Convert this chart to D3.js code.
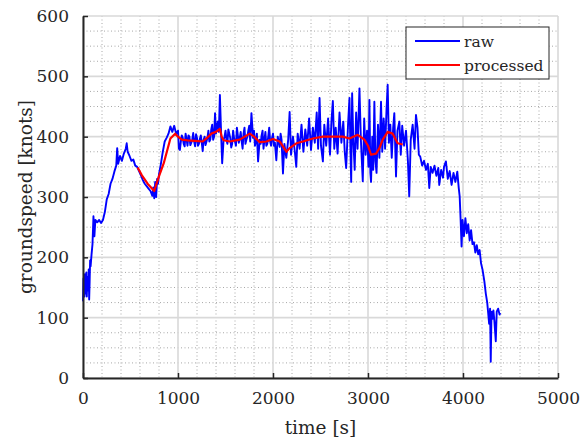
<!DOCTYPE html>
<html>
<head>
<meta charset="utf-8">
<script src="https://cdn.jsdelivr.net/npm/d3@7"></script>
<style>
body { margin: 0; background: #fff; }
text { font-family: "DejaVu Serif", serif; fill: #262626; }
</style>
</head>
<body>
<svg id="chart" width="582" height="441"></svg>
<script>
// raw groundspeed samples (one line of times = one line of speeds)
var rawTime = [
  0,5,10,15,20,25,30,35,40,45,50,55,60,65,70,75,80,90,
  100,110,120,130,150,170,190,210,230,250,270,290,310,330,350,360,370,390,410,430,450,460,470,490,
  510,530,550,570,590,610,630,650,670,690,710,730,740,750,760,770,780,790,800,820,840,860,880,900,
  920,940,960,980,1000,1010,1020,1030,1040,1050,1060,1070,1080,1090,1100,1110,1120,1130,1140,1150,
  1160,1170,1180,1190,1200,1210,1220,1230,1240,1250,1260,1270,1280,1290,1300,1310,1320,1330,1340,
  1350,1360,1370,1380,1390,1400,1410,1420,1430,1441,1455,1465,1480,1490,1500,1510,1520,1530,1540,
  1550,1560,1570,1580,1590,1600,1610,1620,1630,1640,1650,1660,1670,1680,1690,1700,1710,1720,1730,
  1740,1750,1760,1773,1790,1800,1810,1820,1830,1843,1860,1870,1880,1890,1900,1910,1920,1930,1940,
  1950,1960,1970,1980,1990,2000,2010,2020,2035,2050,2060,2070,2080,
  2090,2105,2120,2140,2160,2175,2190,2210,2230,2245,2260,2280,2300,
  2320,2340,2360,2380,2400,2420,2440,2460,2475,2490,2505,2525,2540,2560,2580,2600,2615,2630,2645,
  2660,2680,2700,2720,2740,2755,2770,2790,2805,2815,2823,2833,2845,2860,2875,2890,2910,2925,2945,
  2960,2975,2990,3005,3015,3025,3032,3045,3055,3067,3078,3090,3105,3120,3137,3150,3165,3180,3195,
  3207,3220,3235,3250,3265,3277,3295,3310,3330,3345,3360,3380,3400,3420,3434,3450,3470,3490,3505,
  3521,3535,3550,3570,3590,3610,3630,3645,3660,3680,3700,3720,3740,3750,3770,3790,3800,3820,3840,
  3860,3880,3900,3920,3940,3955,3965,3975,3985,3995,4010,4025,4040,4055,4070,4085,4100,4115,4130,
  4145,4160,4175,4190,4205,4215,4225,4240,4255,4265,4275,4285,4292,4300,4310,4320,4330,4345,4355,
  4370,4385,4390];
var rawSpeed = [
  127,165,150,135,172,160,140,175,135,168,150,145,180,130,160,195,185,205,
  222,268,235,262,258,262,257,262,275,296,305,322,330,342,352,381,355,368,360,372,380,389,375,368,
  360,362,352,350,343,336,328,322,318,314,310,302,316,298,325,300,330,322,338,355,375,392,398,405,
  417,408,418,405,410,380,378,392,402,398,388,384,405,396,385,402,400,386,390,395,
  406,392,384,404,398,385,388,396,402,390,376,395,400,386,392,398,410,392,395,
  412,420,395,400,439,405,418,425,408,469,400,356,395,400,410,395,388,412,405,
  398,382,388,410,398,392,385,415,402,390,398,408,392,380,405,415,388,395,400,
  410,418,392,439,398,410,385,392,405,359,395,388,402,410,380,395,408,385,388,
  400,415,392,385,398,405,385,390,361,400,392,383,405,
  395,339,388,365,395,441,370,400,375,350,405,380,420,
  375,412,385,430,378,415,390,440,380,464,385,359,420,385,430,370,425,459,380,
  415,372,440,390,425,375,348,420,464,380,325,472,395,345,440,380,480,395,326,
  430,370,410,350,461,340,325,400,345,458,360,340,420,365,458,375,430,380,445,
  486,390,420,365,415,439,334,410,425,370,418,385,410,360,301,395,420,380,436,
  415,370,367,352,360,345,355,315,350,340,352,335,348,320,345,332,350,359,330,
  343,320,340,325,342,315,301,262,218,262,235,265,240,255,228,245,222,225,208,
  220,205,212,190,180,170,160,140,125,108,90,115,27,110,98,112,95,61,110,
  115,105,108];

// processed (smoothed) groundspeed
var procTime = [575,620,680,750,790,850,920,970,1000,1040,1100,1180,1260,1300,1350,1400,1441,1460,
  1480,1545,1650,1755,1800,1860,1930,2000,2070,2105,2141,2175,2246,2315,2420,2525,2630,2735,2805,
  2892,2962,3000,3032,3085,3120,3155,3207,3260,3312,3365];
var procSpeed = [349,336,322,310,330,356,397,405,400,395,394,393,392,397,405,408,413,400,
  394,392,395,405,400,391,392,396,392,384,375,381,389,392,397,400,400,400,397,
  403,395,385,370,372,381,395,408,405,389,387];

var xTicks = [0, 1000, 2000, 3000, 4000, 5000];
var yTicks = [0, 100, 200, 300, 400, 500, 600];
var seriesNames = ["raw", "processed"];
var seriesColors = ["#0000ff", "#ff0000"];

var svg = d3.select("#chart"),
    margin = {top: 16, left: 83, right: 24, bottom: 63},
    width = 582 - margin.left - margin.right,
    height = 441 - margin.top - margin.bottom,
    g = svg.append("g").attr("transform", "translate(" + margin.left + "," + margin.top + ")");

var x = d3.scaleLinear().domain([0, 5000]).range([0, width]);
var y = d3.scaleLinear().domain([0, 600]).range([height, 0]);

// minor grid (dotted)
var minorX = d3.range(200, 5000, 200).filter(function(d) { return d % 1000 !== 0; });
var minorY = d3.range(25, 600, 25).filter(function(d) { return d % 100 !== 0; });

g.append("g").selectAll("line")
    .data(minorX).enter().append("line")
    .attr("x1", function(d) { return x(d); }).attr("x2", function(d) { return x(d); })
    .attr("y1", 0).attr("y2", height)
    .attr("stroke", "#a8a8a8").attr("stroke-width", 1).attr("stroke-dasharray", "1,2.5");

g.append("g").selectAll("line")
    .data(minorY).enter().append("line")
    .attr("x1", 0).attr("x2", width)
    .attr("y1", function(d) { return y(d); }).attr("y2", function(d) { return y(d); })
    .attr("stroke", "#a8a8a8").attr("stroke-width", 1).attr("stroke-dasharray", "1,2.5");

// major grid
g.append("g").selectAll("line")
    .data(xTicks).enter().append("line")
    .attr("x1", function(d) { return x(d); }).attr("x2", function(d) { return x(d); })
    .attr("y1", 0).attr("y2", height)
    .attr("stroke", "#d9d9d9").attr("stroke-width", 1.6);

g.append("g").selectAll("line")
    .data(yTicks).enter().append("line")
    .attr("x1", 0).attr("x2", width)
    .attr("y1", function(d) { return y(d); }).attr("y2", function(d) { return y(d); })
    .attr("stroke", "#d9d9d9").attr("stroke-width", 1.6);

// data lines
var rawData = rawTime.map(function(t, i) { return [t, rawSpeed[i]]; });
var procData = procTime.map(function(t, i) { return [t, procSpeed[i]]; });

var line = d3.line()
    .x(function(d) { return x(d[0]); })
    .y(function(d) { return y(d[1]); });

g.append("path").datum(rawData)
    .attr("d", line).attr("fill", "none")
    .attr("stroke", seriesColors[0]).attr("stroke-width", 1.9).attr("stroke-linejoin", "round");

g.append("path").datum(procData)
    .attr("d", line).attr("fill", "none")
    .attr("stroke", seriesColors[1]).attr("stroke-width", 2.2).attr("stroke-linejoin", "round");

// axes
var fmt = d3.format("d");
var xAxis = g.append("g")
    .attr("transform", "translate(0," + height + ")")
    .call(d3.axisBottom(x).tickValues(xTicks).tickFormat(fmt).tickSizeInner(-5).tickSizeOuter(0).tickPadding(14));
var yAxis = g.append("g")
    .call(d3.axisLeft(y).tickValues(yTicks).tickFormat(fmt).tickSizeInner(-5).tickSizeOuter(0).tickPadding(14));

[xAxis, yAxis].forEach(function(a) {
    a.select(".domain").attr("stroke", "#262626").attr("stroke-width", 2);
    a.selectAll(".tick line").attr("stroke", "#262626").attr("stroke-width", 1.5);
    a.selectAll(".tick text").attr("font-family", "DejaVu Serif").attr("font-size", 17).attr("fill", "#262626");
});

// axis titles
svg.append("text")
    .attr("x", margin.left + width / 2).attr("y", 434)
    .attr("text-anchor", "middle").attr("font-size", 18.5)
    .text("time [s]");

svg.append("text")
    .attr("transform", "translate(32," + (margin.top + height / 2) + ") rotate(-90)")
    .attr("text-anchor", "middle").attr("font-size", 18.5)
    .text("groundspeed [knots]");

// legend
var legend = svg.append("g").attr("transform", "translate(406,27)");
legend.append("rect")
    .attr("width", 143).attr("height", 52)
    .attr("fill", "#fff").attr("stroke", "#262626").attr("stroke-width", 1);

seriesNames.forEach(function(name, i) {
    var ly = 14 + i * 24;
    legend.append("line")
        .attr("x1", 9).attr("x2", 54).attr("y1", ly).attr("y2", ly)
        .attr("stroke", seriesColors[i]).attr("stroke-width", i === 0 ? 1.9 : 2.2);
    legend.append("text")
        .attr("x", 58).attr("y", ly + 5.5)
        .attr("font-size", 15.5)
        .text(name);
});
</script>
</body>
</html>
